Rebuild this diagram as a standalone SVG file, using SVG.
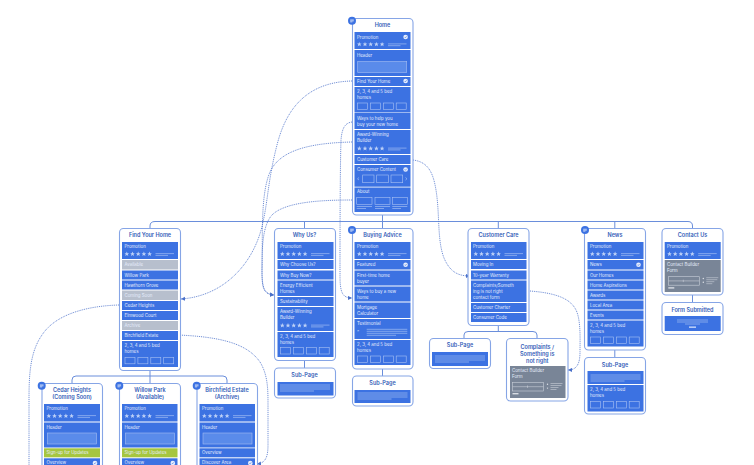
<svg xmlns="http://www.w3.org/2000/svg" width="754" height="465" viewBox="0 0 754 465">
<style>
.c{fill:#fff;stroke:#86a5e6;stroke-width:1.1}
.p{fill:#3c72e2}
.g{fill:#798597}
.l{fill:#b7bfcd}
.h{fill:#a6c63f}
.b{fill:#5a8bea;stroke:#a3bdf2;stroke-width:.6}
.tb{fill:none;stroke:#a9c2f4;stroke-width:.6}
.ln{stroke:#b3c9f5;stroke-width:.6;fill:none}
.wl{stroke:#c9cfd9;stroke-width:.6;fill:none}
.t{font:600 5.5px Inter,"Liberation Sans",sans-serif;fill:#3560b8;text-anchor:middle}
.x{font:400 4.4px Inter,"Liberation Sans",sans-serif;fill:#e6edfc}
.k{fill:none;stroke:#6a8edb;stroke-width:1}
.d{fill:none;stroke:#5a7dce;stroke-width:.9;stroke-dasharray:1 .9}
</style>
<defs>
<marker id="a" markerUnits="userSpaceOnUse" markerWidth="5" markerHeight="5" refX="4" refY="2.5" orient="auto"><path d="M0 .4L4 2.5L0 4.6z" fill="#4a70c9"/></marker>
<polygon id="s" points="0,-2.4 .7,-.8 2.3,-.7 1.1,.3 1.5,1.9 0,1 -1.5,1.9 -1.1,.3 -2.3,-.7 -.7,-.8" fill="#bcd0f7"/>
<g id="stars">
<use href="#s" x="4.8"/><use href="#s" x="10.5"/><use href="#s" x="16.2"/><use href="#s" x="21.9"/><use href="#s" x="27.6"/>
<path class="ln" d="M33.5 -.4H52M33.5 1.4H46"/>
</g>
<g id="thumbs">
<rect class="tb" x="3" y="0" width="10" height="6.5"/><rect class="tb" x="15.9" y="0" width="10" height="6.5"/><rect class="tb" x="28.8" y="0" width="10" height="6.5"/><rect class="tb" x="41.7" y="0" width="10" height="6.5"/>
</g>
<g id="chk"><circle r="2.3" fill="#e6edfc"/><path d="M-1 0L-.2 .8L1 -.7" fill="none" stroke="#3c72e2" stroke-width=".6"/></g>
<g id="badge"><circle r="4" fill="#3c72e2"/><path d="M-1.8 -.8H1.8M-1.8 .2H1.8M-1.8 1.2H.4" stroke="#fff" stroke-width=".6" fill="none"/></g>
<path id="sublines" class="ln" d="M0 0H50M0 2H50M0 4H50M0 6H34"/>
<g id="form">
<rect class="wl" x="0" y="0" width="31" height="8.5"/>
<path class="wl" d="M0 4.2H31M15 3V5.4"/>
<circle cx="35" cy="1.8" r=".7" fill="#e0e4ea"/><circle cx="35" cy="5.6" r=".7" fill="#e0e4ea"/>
<path class="wl" d="M38 1H50M38 3H49M38 5H46M38 7H44"/>
<rect x="0" y="10.5" width="6" height="1.4" fill="#d8dce3"/>
</g>
</defs>

<g id="connectors">
<path class="k" d="M150 228V226Q150 221.5 155 221.5H688Q692.5 221.5 692.5 226V228"/>
<path class="k" d="M382.5 215V228M304.5 221.5V228M498.3 221.5V228M614.8 221.5V228"/>
<path class="k" d="M304.5 361V368M382.5 369V376M614.8 350V357M692.5 295V302"/>
<path class="k" d="M498.3 326V331.5M464 338V335Q464 331.5 468 331.5H533Q537 331.5 537 335V338"/>
<path class="k" d="M150 371V383M72 383V380Q72 376 76 376H223Q227 376 227 380V383"/>
<path class="d" marker-end="url(#a)" d="M352 81C310 82 287 105 277 145C268 180 268 200 263 222C255 262 225 296 181 299"/>
<path class="d" marker-end="url(#a)" d="M352 142C310 143 280 150 270 172C260 195 263 240 262 270C262 288 263 294 274 295"/>
<path class="d" marker-end="url(#a)" d="M352 200C320 200 285 202 272 215C262 226 262 250 262 270C262 288 264 294 274 295"/>
<path class="d" marker-end="url(#a)" d="M352 122C345 123 342 128 341 140C340 170 340 250 340 275C340 292 342 298 352 298"/>
<path class="d" d="M119 305C85 306 55 315 42 335C30 352 29 375 29 400V465"/>
<path class="d" marker-end="url(#a)" d="M178 335C225 337 248 345 260 362C268 375 268 390 268 405V445C268 458 265 463 257 464"/>
<path class="d" marker-end="url(#a)" d="M413 160C428 162 433 172 436 190C440 215 437 240 444 258C450 272 458 276 470 276"/>
<path class="d" marker-end="url(#a)" d="M530 291C555 293 570 298 576 310C581 320 580 340 580 352C580 365 576 370 568 370"/>
</g>

<g id="home">
<rect class="c" x="352.5" y="18.5" width="60.5" height="196.5" rx="4"/>
<text class="t" x="382.5" y="27">Home</text>
<rect class="p" x="354.5" y="32" width="56" height="17"/><text class="x" x="357" y="38.6">Promotion</text><use href="#chk" x="405.6" y="37"/><use href="#stars" x="354.5" y="44.3"/>
<rect class="p" x="354.5" y="50" width="56" height="26"/><text class="x" x="357" y="56.6">Header</text><rect class="b" x="357.7" y="61.5" width="49" height="11"/>
<rect class="p" x="354.5" y="77" width="56" height="9"/><text class="x" x="357" y="82.9">Find Your Home</text><use href="#chk" x="405.6" y="81"/>
<rect class="p" x="354.5" y="87" width="56" height="25.5"/><text class="x" x="357" y="93">2, 3, 4 and 5 bed</text><text class="x" x="357" y="99.2">homes</text><use href="#thumbs" x="354.5" y="103"/>
<rect class="p" x="354.5" y="113" width="56" height="16"/><text class="x" x="357" y="119.5">Ways to help you</text><text class="x" x="357" y="125.7">buy your new home</text>
<rect class="p" x="354.5" y="130" width="56" height="24"/><text class="x" x="357" y="136.2">Award-Winning</text><text class="x" x="357" y="142.4">Builder</text><use href="#stars" x="354.5" y="148.5"/>
<rect class="p" x="354.5" y="155" width="56" height="9"/><text class="x" x="357" y="160.9">Customer Care</text>
<rect class="p" x="354.5" y="165" width="56" height="21.7"/><text class="x" x="357" y="171">Consumer Content</text><use href="#chk" x="405.6" y="169.5"/>
<path class="ln" d="M359 177.5L357.5 178.8L359 180M405.5 177.5L407 178.8L405.5 180"/>
<rect class="tb" x="362.7" y="175" width="11.3" height="7.7"/><rect class="tb" x="376.7" y="175" width="11.6" height="7.7"/><rect class="tb" x="391" y="175" width="11.7" height="7.7"/>
<rect class="p" x="354.5" y="187.5" width="56" height="24.5"/><text class="x" x="357" y="193.3">About</text>
<rect class="tb" x="356.7" y="197.3" width="15.3" height="7"/><rect class="tb" x="375" y="197.3" width="15" height="7"/><rect class="tb" x="392.3" y="197.3" width="15" height="7"/>
<path class="ln" d="M356.7 206.5H372M356.7 208.5H366M375 206.5H390M375 208.5H384M392.3 206.5H407.3M392.3 208.5H401"/>
<use href="#badge" x="352" y="20.7"/>
</g>

<g id="find-your-home">
<rect class="c" x="119.5" y="228.5" width="61" height="142" rx="4"/>
<text class="t" x="150" y="237">Find Your Home</text>
<rect class="p" x="122" y="242" width="56" height="17"/><text class="x" x="124.5" y="248.2">Promotion</text><use href="#stars" x="122" y="254"/>
<rect class="l" x="122" y="260" width="56" height="9.5"/><text class="x" x="124.5" y="266.2">Available</text>
<rect class="p" x="122" y="270.5" width="56" height="9"/><text class="x" x="124.5" y="276.5">Willow Park</text>
<rect class="p" x="122" y="280.5" width="56" height="9"/><text class="x" x="124.5" y="286.5">Hawthorn Grove</text>
<rect class="l" x="122" y="290.5" width="56" height="9.5"/><text class="x" x="124.5" y="296.7">Coming Soon</text>
<rect class="p" x="122" y="301" width="56" height="9"/><text class="x" x="124.5" y="307">Cedar Heights</text>
<rect class="p" x="122" y="311" width="56" height="9"/><text class="x" x="124.5" y="317">Elmwood Court</text>
<rect class="l" x="122" y="321" width="56" height="9"/><text class="x" x="124.5" y="327">Archive</text>
<rect class="p" x="122" y="331" width="56" height="9"/><text class="x" x="124.5" y="337">Birchfield Estate</text>
<rect class="p" x="122" y="341" width="56" height="26"/><text class="x" x="124.5" y="347.2">2, 3, 4 and 5 bed</text><text class="x" x="124.5" y="353.4">homes</text><use href="#thumbs" x="122" y="357.3"/>
</g>

<g id="why-us">
<rect class="c" x="274.5" y="228.5" width="61" height="132" rx="4"/>
<text class="t" x="304.5" y="237">Why Us?</text>
<rect class="p" x="277.5" y="242" width="56" height="17"/><text class="x" x="280" y="248.2">Promotion</text><use href="#stars" x="277.5" y="254"/>
<rect class="p" x="277.5" y="260" width="56" height="9"/><text class="x" x="280" y="266">Why Choose Us?</text>
<rect class="p" x="277.5" y="270.5" width="56" height="9"/><text class="x" x="280" y="276.5">Why Buy Now?</text>
<rect class="p" x="277.5" y="280.5" width="56" height="15.5"/><text class="x" x="280" y="286.5">Energy Efficient</text><text class="x" x="280" y="292.7">Homes</text>
<rect class="p" x="277.5" y="297" width="56" height="9"/><text class="x" x="280" y="303">Sustainability</text>
<rect class="p" x="277.5" y="307" width="56" height="24"/><text class="x" x="280" y="313">Award-Winning</text><text class="x" x="280" y="319.2">Builder</text><use href="#stars" x="277.5" y="325.5"/>
<rect class="p" x="277.5" y="332" width="56" height="25"/><text class="x" x="280" y="338.2">2, 3, 4 and 5 bed</text><text class="x" x="280" y="344.4">homes</text><use href="#thumbs" x="277.5" y="347.5"/>
</g>
<g id="why-us-sub">
<rect class="c" x="274.5" y="368" width="61" height="30" rx="4"/>
<text class="t" x="304.5" y="377">Sub-Page</text>
<rect class="p" x="277.5" y="382" width="56" height="13.5"/><use href="#sublines" x="280" y="385"/>
</g>

<g id="buying-advice">
<rect class="c" x="352.5" y="228.5" width="60.5" height="140.5" rx="4"/>
<text class="t" x="382.5" y="237">Buying Advice</text>
<rect class="p" x="354.5" y="242" width="56" height="17"/><text class="x" x="357" y="248.2">Promotion</text><use href="#stars" x="354.5" y="254"/>
<rect class="p" x="354.5" y="260" width="56" height="9.5"/><text class="x" x="357" y="266.2">Featured</text><use href="#chk" x="405.6" y="264.7"/>
<rect class="p" x="354.5" y="270.5" width="56" height="15"/><text class="x" x="357" y="276.5">First-time home</text><text class="x" x="357" y="282.7">buyer</text>
<rect class="p" x="354.5" y="286.5" width="56" height="15"/><text class="x" x="357" y="292.5">Ways to buy a new</text><text class="x" x="357" y="298.7">home</text>
<rect class="p" x="354.5" y="302.5" width="56" height="15.5"/><text class="x" x="357" y="308.5">Mortgage</text><text class="x" x="357" y="314.7">Calculator</text>
<rect class="p" x="354.5" y="319" width="56" height="20"/><text class="x" x="357" y="325.2">Testimonial</text><text class="x" x="357" y="333.5">“</text>
<path class="ln" d="M366.7 329.3H407.3M366.7 331.3H407.3M366.7 333.3H407.3M366.7 335.3H396"/>
<rect class="p" x="354.5" y="340" width="56" height="25"/><text class="x" x="357" y="346.2">2, 3, 4 and 5 bed</text><text class="x" x="357" y="352.4">homes</text><use href="#thumbs" x="354.5" y="356"/>
<use href="#badge" x="352" y="230"/>
</g>
<g id="buying-advice-sub">
<rect class="c" x="352.5" y="376" width="60.5" height="30" rx="4"/>
<text class="t" x="382.5" y="385">Sub-Page</text>
<rect class="p" x="354.5" y="390" width="56" height="13"/><use href="#sublines" x="357.5" y="393"/>
</g>

<g id="customer-care">
<rect class="c" x="468" y="228.5" width="61" height="97" rx="4"/>
<text class="t" x="498.5" y="237">Customer Care</text>
<rect class="p" x="471" y="242" width="55.5" height="17"/><text class="x" x="473" y="248.2">Promotion</text><use href="#stars" x="471" y="254"/>
<rect class="p" x="471" y="260" width="55.5" height="9"/><text class="x" x="473" y="266">Moving In</text>
<rect class="p" x="471" y="270.5" width="55.5" height="9"/><text class="x" x="473" y="276.5">10-year Warranty</text>
<rect class="p" x="471" y="280.5" width="55.5" height="21.5"/><text class="x" x="473" y="286.5">Complaints/Someth</text><text class="x" x="473" y="292.7">ing is not right</text><text class="x" x="473" y="298.9">contact form</text>
<rect class="p" x="471" y="303" width="55.5" height="9"/><text class="x" x="473" y="309">Customer Charter</text>
<rect class="p" x="471" y="313" width="55.5" height="9"/><text class="x" x="473" y="319">Consumer Code</text>
</g>
<g id="customer-care-sub">
<rect class="c" x="429.5" y="338.5" width="61" height="30" rx="4"/>
<text class="t" x="460" y="347">Sub-Page</text>
<rect class="p" x="432" y="352" width="56" height="14"/><use href="#sublines" x="435" y="356"/>
</g>
<g id="complaints">
<rect class="c" x="506.5" y="338.5" width="61.5" height="62.5" rx="4"/>
<text class="t" x="537.3" y="348.5">Complaints /</text><text class="t" x="537.3" y="355.5">Something is</text><text class="t" x="537.3" y="362.5">not right</text>
<rect class="g" x="510" y="366" width="55.5" height="32"/><text class="x" x="512" y="372.2">Contact Builder</text><text class="x" x="512" y="378.4">Form</text><use href="#form" x="512.5" y="382.5"/>
</g>

<g id="news">
<rect class="c" x="584.5" y="228.5" width="61" height="121.5" rx="4"/>
<text class="t" x="615" y="237">News</text>
<rect class="p" x="587.5" y="242" width="56" height="17"/><text class="x" x="590" y="248.2">Promotion</text><use href="#stars" x="587.5" y="254"/>
<rect class="p" x="587.5" y="260" width="56" height="9.5"/><text class="x" x="590" y="266.2">News</text><use href="#chk" x="638.5" y="264.7"/>
<rect class="p" x="587.5" y="270.5" width="56" height="9"/><text class="x" x="590" y="276.5">Our Homes</text>
<rect class="p" x="587.5" y="280.5" width="56" height="9"/><text class="x" x="590" y="286.5">Home Aspirations</text>
<rect class="p" x="587.5" y="290.5" width="56" height="9"/><text class="x" x="590" y="296.5">Awards</text>
<rect class="p" x="587.5" y="300.5" width="56" height="9"/><text class="x" x="590" y="306.5">Local Area</text>
<rect class="p" x="587.5" y="310.5" width="56" height="9"/><text class="x" x="590" y="316.5">Events</text>
<rect class="p" x="587.5" y="320.5" width="56" height="26"/><text class="x" x="590" y="326.7">2, 3, 4 and 5 bed</text><text class="x" x="590" y="332.9">homes</text><use href="#thumbs" x="587.5" y="337"/>
<use href="#badge" x="585" y="230"/>
</g>
<g id="news-sub">
<rect class="c" x="584.5" y="357.5" width="61" height="56.5" rx="4"/>
<text class="t" x="615" y="366.5">Sub-Page</text>
<rect class="p" x="587.5" y="371" width="56" height="13"/><use href="#sublines" x="590.5" y="375"/>
<rect class="p" x="587.5" y="385" width="56" height="26.5"/><text class="x" x="590" y="391.2">2, 3, 4 and 5 bed</text><text class="x" x="590" y="397.4">homes</text><use href="#thumbs" x="587.5" y="401.5"/>
</g>

<g id="contact-us">
<rect class="c" x="662" y="228.5" width="61" height="66.5" rx="4"/>
<text class="t" x="692.5" y="237">Contact Us</text>
<rect class="p" x="664.7" y="242" width="56" height="17"/><text class="x" x="667" y="248.2">Promotion</text><use href="#stars" x="664.7" y="254"/>
<rect class="g" x="664.7" y="260" width="56" height="32"/><text class="x" x="667" y="266.2">Contact Builder</text><text class="x" x="667" y="272.4">Form</text><use href="#form" x="668.3" y="276.7"/>
</g>
<g id="form-submitted">
<rect class="c" x="662" y="302.5" width="61" height="32" rx="4"/>
<text class="t" x="692.5" y="311.5">Form Submitted</text>
<rect class="p" x="664.7" y="316" width="56" height="15"/>
<path class="ln" d="M677 320H708M677 322H708M685 324H700"/><rect x="689" y="326.5" width="7" height="1.3" fill="#d5e1fa"/>
</g>

<g id="cedar-heights">
<rect class="c" x="42" y="383.5" width="60.5" height="100" rx="4"/>
<text class="t" x="72" y="392">Cedar Heights</text><text class="t" x="72" y="399">(Coming Soon)</text>
<rect class="p" x="44" y="404" width="56" height="17.5"/><text class="x" x="46.5" y="410.2">Promotion</text><use href="#stars" x="44" y="416"/>
<rect class="p" x="44" y="422.5" width="56" height="25"/><text class="x" x="46.5" y="428.7">Header</text><rect class="b" x="47.5" y="433" width="49" height="11"/>
<rect class="h" x="44" y="448.3" width="56" height="9"/><text class="x" x="46.5" y="454.3">Sign-up for Updates</text>
<rect class="p" x="44" y="458.3" width="56" height="14"/><text class="x" x="46.5" y="464.3">Overview</text><use href="#chk" x="95" y="463"/>
<use href="#badge" x="41.7" y="385.7"/>
</g>
<g id="willow-park">
<rect class="c" x="119.5" y="383.5" width="61" height="100" rx="4"/>
<text class="t" x="150" y="392">Willow Park</text><text class="t" x="150" y="399">(Available)</text>
<rect class="p" x="122" y="404" width="55.5" height="17.5"/><text class="x" x="124.5" y="410.2">Promotion</text><use href="#stars" x="122" y="416"/>
<rect class="p" x="122" y="422.5" width="55.5" height="25"/><text class="x" x="124.5" y="428.7">Header</text><rect class="b" x="125.5" y="433" width="49" height="11"/>
<rect class="h" x="122" y="448.3" width="55.5" height="9"/><text class="x" x="124.5" y="454.3">Sign-up for Updates</text>
<rect class="p" x="122" y="458.3" width="55.5" height="14"/><text class="x" x="124.5" y="464.3">Overview</text><use href="#chk" x="172.8" y="463"/>
<use href="#badge" x="119.3" y="385.7"/>
</g>
<g id="birchfield-estate">
<rect class="c" x="197" y="383.5" width="60.5" height="100" rx="4"/>
<text class="t" x="227" y="392">Birchfield Estate</text><text class="t" x="227" y="399">(Archive)</text>
<rect class="p" x="199.5" y="404" width="55.5" height="17.5"/><text class="x" x="202" y="410.2">Promotion</text><use href="#stars" x="199.5" y="416"/>
<rect class="p" x="199.5" y="422.5" width="55.5" height="25"/><text class="x" x="202" y="428.7">Header</text><rect class="b" x="203" y="433" width="49" height="11"/>
<rect class="p" x="199.5" y="448.3" width="55.5" height="9"/><text class="x" x="202" y="454.3">Overview</text>
<rect class="p" x="199.5" y="458.3" width="55.5" height="14"/><text class="x" x="202" y="464.3">Discover Area</text><use href="#chk" x="250.3" y="463"/>
<use href="#badge" x="196.7" y="385.7"/>
</g>
</svg>
